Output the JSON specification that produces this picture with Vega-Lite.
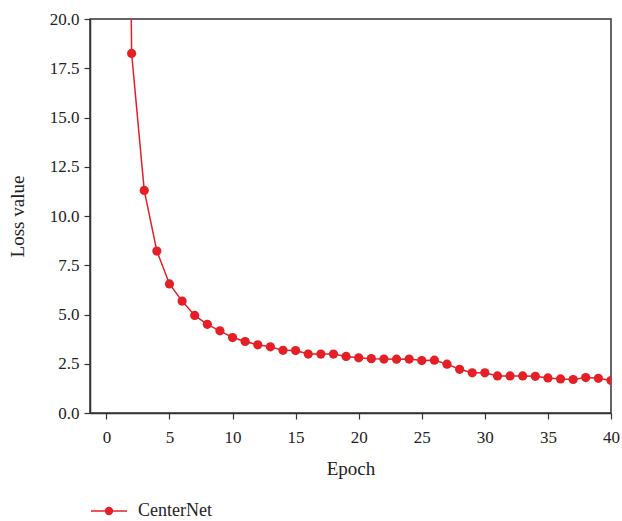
{
  "$schema": "https://vega.github.io/schema/vega-lite/v6.json",
  "width": 521,
  "height": 394,
  "autosize": {"type": "none"},
  "padding": {"left": 90, "top": 19, "right": 11, "bottom": 108},
  "background": "white",
  "config": {
    "font": "Liberation Serif",
    "view": {"stroke": "#333333", "strokeWidth": 1.5},
    "axis": {
      "grid": false,
      "domainColor": "#333333",
      "domainWidth": 1.5,
      "tickColor": "#333333",
      "tickSize": 6,
      "tickWidth": 1.2,
      "labelFont": "Liberation Serif",
      "labelFontSize": 17,
      "labelColor": "#222222",
      "titleFont": "Liberation Serif",
      "titleFontSize": 19,
      "titleFontWeight": "normal",
      "titleColor": "#222222"
    },
    "legend": {
      "labelFont": "Liberation Serif",
      "labelFontSize": 18,
      "labelColor": "#222222"
    }
  },
  "data": {
    "values": [
      {"epoch": 1, "loss": 80, "model": "CenterNet"},
      {"epoch": 2, "loss": 18.25, "model": "CenterNet"},
      {"epoch": 3, "loss": 11.3, "model": "CenterNet"},
      {"epoch": 4, "loss": 8.22, "model": "CenterNet"},
      {"epoch": 5, "loss": 6.55, "model": "CenterNet"},
      {"epoch": 6, "loss": 5.68, "model": "CenterNet"},
      {"epoch": 7, "loss": 4.95, "model": "CenterNet"},
      {"epoch": 8, "loss": 4.5, "model": "CenterNet"},
      {"epoch": 9, "loss": 4.17, "model": "CenterNet"},
      {"epoch": 10, "loss": 3.83, "model": "CenterNet"},
      {"epoch": 11, "loss": 3.63, "model": "CenterNet"},
      {"epoch": 12, "loss": 3.46, "model": "CenterNet"},
      {"epoch": 13, "loss": 3.36, "model": "CenterNet"},
      {"epoch": 14, "loss": 3.18, "model": "CenterNet"},
      {"epoch": 15, "loss": 3.17, "model": "CenterNet"},
      {"epoch": 16, "loss": 2.99, "model": "CenterNet"},
      {"epoch": 17, "loss": 2.99, "model": "CenterNet"},
      {"epoch": 18, "loss": 2.99, "model": "CenterNet"},
      {"epoch": 19, "loss": 2.87, "model": "CenterNet"},
      {"epoch": 20, "loss": 2.8, "model": "CenterNet"},
      {"epoch": 21, "loss": 2.76, "model": "CenterNet"},
      {"epoch": 22, "loss": 2.74, "model": "CenterNet"},
      {"epoch": 23, "loss": 2.73, "model": "CenterNet"},
      {"epoch": 24, "loss": 2.74, "model": "CenterNet"},
      {"epoch": 25, "loss": 2.66, "model": "CenterNet"},
      {"epoch": 26, "loss": 2.68, "model": "CenterNet"},
      {"epoch": 27, "loss": 2.48, "model": "CenterNet"},
      {"epoch": 28, "loss": 2.22, "model": "CenterNet"},
      {"epoch": 29, "loss": 2.04, "model": "CenterNet"},
      {"epoch": 30, "loss": 2.04, "model": "CenterNet"},
      {"epoch": 31, "loss": 1.88, "model": "CenterNet"},
      {"epoch": 32, "loss": 1.88, "model": "CenterNet"},
      {"epoch": 33, "loss": 1.88, "model": "CenterNet"},
      {"epoch": 34, "loss": 1.86, "model": "CenterNet"},
      {"epoch": 35, "loss": 1.78, "model": "CenterNet"},
      {"epoch": 36, "loss": 1.73, "model": "CenterNet"},
      {"epoch": 37, "loss": 1.7, "model": "CenterNet"},
      {"epoch": 38, "loss": 1.8, "model": "CenterNet"},
      {"epoch": 39, "loss": 1.76, "model": "CenterNet"},
      {"epoch": 40, "loss": 1.65, "model": "CenterNet"}
    ]
  },
  "encoding": {
    "x": {
      "field": "epoch",
      "type": "quantitative",
      "title": "Epoch",
      "scale": {"domain": [-1.3, 40], "nice": false, "zero": false},
      "axis": {"values": [0, 5, 10, 15, 20, 25, 30, 35, 40], "labelPadding": 10, "titlePadding": 14, "labelFlush": false}
    },
    "y": {
      "field": "loss",
      "type": "quantitative",
      "title": "Loss value",
      "scale": {"domain": [0, 20], "nice": false},
      "axis": {"values": [0, 2.5, 5, 7.5, 10, 12.5, 15, 17.5, 20], "format": ".1f", "labelPadding": 5, "titlePadding": 22, "labelFlush": false}
    }
  },
  "layer": [
    {
      "mark": {"type": "line", "clip": true, "strokeWidth": 1.5, "color": "#e41f26"},
      "encoding": {
        "color": {
          "field": "model",
          "type": "nominal",
          "scale": {"range": ["#e41f26"]},
          "legend": {
            "title": null,
            "orient": "none",
            "legendX": 0,
            "legendY": 473,
            "symbolType": "M-1,0L1,0M-0.19,0a0.19,0.19 0 1,0 0.38,0a0.19,0.19 0 1,0 -0.38,0Z",
            "symbolSize": 1300,
            "symbolStrokeWidth": 1.5,
            "symbolFillColor": "#e41f26",
            "symbolStrokeColor": "#ea3a40",
            "labelOffset": 10
          }
        }
      }
    },
    {
      "mark": {"type": "circle", "clip": true, "size": 85, "color": "#e41f26", "opacity": 1}
    }
  ]
}
